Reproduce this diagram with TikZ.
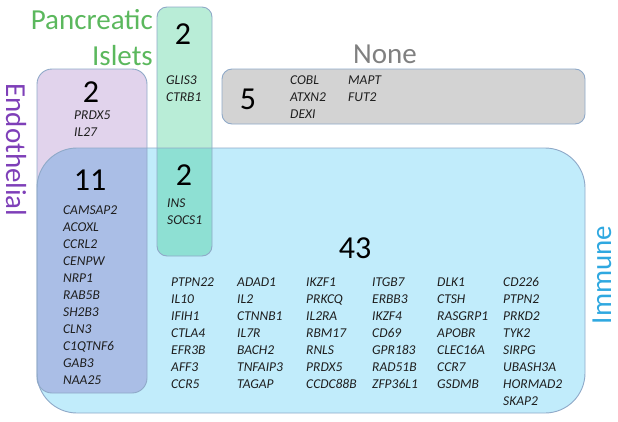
\documentclass[tikz,border=0pt]{standalone}
\usepackage{fontspec}
\setmainfont{Carlito}
\definecolor{purplefill}{HTML}{E1D3EC}
\definecolor{greenfill}{HTML}{B9EDD7}
\definecolor{grayfill}{HTML}{D3D3D3}
\definecolor{bluefill}{HTML}{C1ECFB}
\definecolor{pbfill}{HTML}{AABEE6}
\definecolor{gbfill}{HTML}{8EE0D3}
\definecolor{boxborder}{HTML}{8FA9C8}
\definecolor{pancgreen}{HTML}{5BB85D}
\definecolor{endopurple}{HTML}{7E3FB8}
\definecolor{immblue}{HTML}{2FA8E0}
\definecolor{nonegray}{HTML}{808080}
\definecolor{genetext}{HTML}{1E1E1E}
\begin{document}
\begin{tikzpicture}[x=1pt,y=-1pt,
  genes/.style={anchor=north west, inner sep=0pt, align=left, font=\fontsize{13.5}{17}\selectfont\itshape, text=genetext},
  count/.style={inner sep=0pt, font=\fontsize{32}{34}\selectfont},
  cat/.style={inner sep=0pt, font=\fontsize{29}{32}\selectfont},
  boxline/.style={draw=boxborder, line width=0.9pt}]
\useasboundingbox (0,0) rectangle (618,421);
% fills
\fill[purplefill, rounded corners=15pt] (37,69) rectangle (147,393);
\fill[greenfill, rounded corners=10pt] (157,7) rectangle (212,256);
\fill[grayfill, rounded corners=10pt] (222,69) rectangle (585,124);
\fill[bluefill, rounded corners=40pt] (37,148) rectangle (585,413);
\begin{scope}
  \clip[rounded corners=40pt] (37,148) rectangle (585,413);
  \fill[pbfill, rounded corners=15pt] (37,69) rectangle (147,393);
  \fill[gbfill, rounded corners=10pt] (157,7) rectangle (212,256);
\end{scope}
% borders
\draw[boxline, rounded corners=15pt] (37,69) rectangle (147,393);
\draw[boxline, rounded corners=10pt] (157,7) rectangle (212,256);
\draw[boxline, rounded corners=10pt] (222,69) rectangle (585,124);
\draw[boxline, rounded corners=40pt] (37,148) rectangle (585,413);
% category labels
\node[cat, text=pancgreen, anchor=base east] (panc) at (153,29.5) {Pancreatic};
\node[cat, text=pancgreen, anchor=base east] (islets) at (153,65) {Islets};
\node[cat, text=nonegray, anchor=base west] (none) at (353,63) {None};
\node[cat, text=endopurple, rotate=-90] (endo) at (16,150) {Endothelial};
\node[cat, text=immblue, rotate=90] (imm) at (602,275) {Immune};
% counts
\node[count] (npanc) at (183,34) {2};
\node[count] (nendo) at (91,92) {2};
\node[count] (nnone) at (248,99) {5};
\node[count] (nei) at (90,180) {11};
\node[count] (npi) at (184,175) {2};
\node[count] (nimm) at (355,248) {43};
% gene lists
\node[genes] (gpanc) at (166,75.6) {GLIS3\\CTRB1};
\node[genes] (gendo) at (74,110.6) {PRDX5\\IL27};
\node[genes] (gnone1) at (290,75.6) {COBL\\ATXN2\\DEXI};
\node[genes] (gnone2) at (348,75.6) {MAPT\\FUT2};
\node[genes] (gpi) at (167,198.6) {INS\\SOCS1};
\node[genes] (gei) at (63,205.6) {CAMSAP2\\ACOXL\\CCRL2\\CENPW\\NRP1\\RAB5B\\SH2B3\\CLN3\\C1QTNF6\\GAB3\\NAA25};
\node[genes] (gi1) at (171,277.6) {PTPN22\\IL10\\IFIH1\\CTLA4\\EFR3B\\AFF3\\CCR5};
\node[genes] (gi2) at (237,277.6) {ADAD1\\IL2\\CTNNB1\\IL7R\\BACH2\\TNFAIP3\\TAGAP};
\node[genes] (gi3) at (306,277.6) {IKZF1\\PRKCQ\\IL2RA\\RBM17\\RNLS\\PRDX5\\CCDC88B};
\node[genes] (gi4) at (372,277.6) {ITGB7\\ERBB3\\IKZF4\\CD69\\GPR183\\RAD51B\\ZFP36L1};
\node[genes] (gi5) at (437,277.6) {DLK1\\CTSH\\RASGRP1\\APOBR\\CLEC16A\\CCR7\\GSDMB};
\node[genes] (gi6) at (503,277.6) {CD226\\PTPN2\\PRKD2\\TYK2\\SIRPG\\UBASH3A\\HORMAD2\\SKAP2};
\end{tikzpicture}
\end{document}
